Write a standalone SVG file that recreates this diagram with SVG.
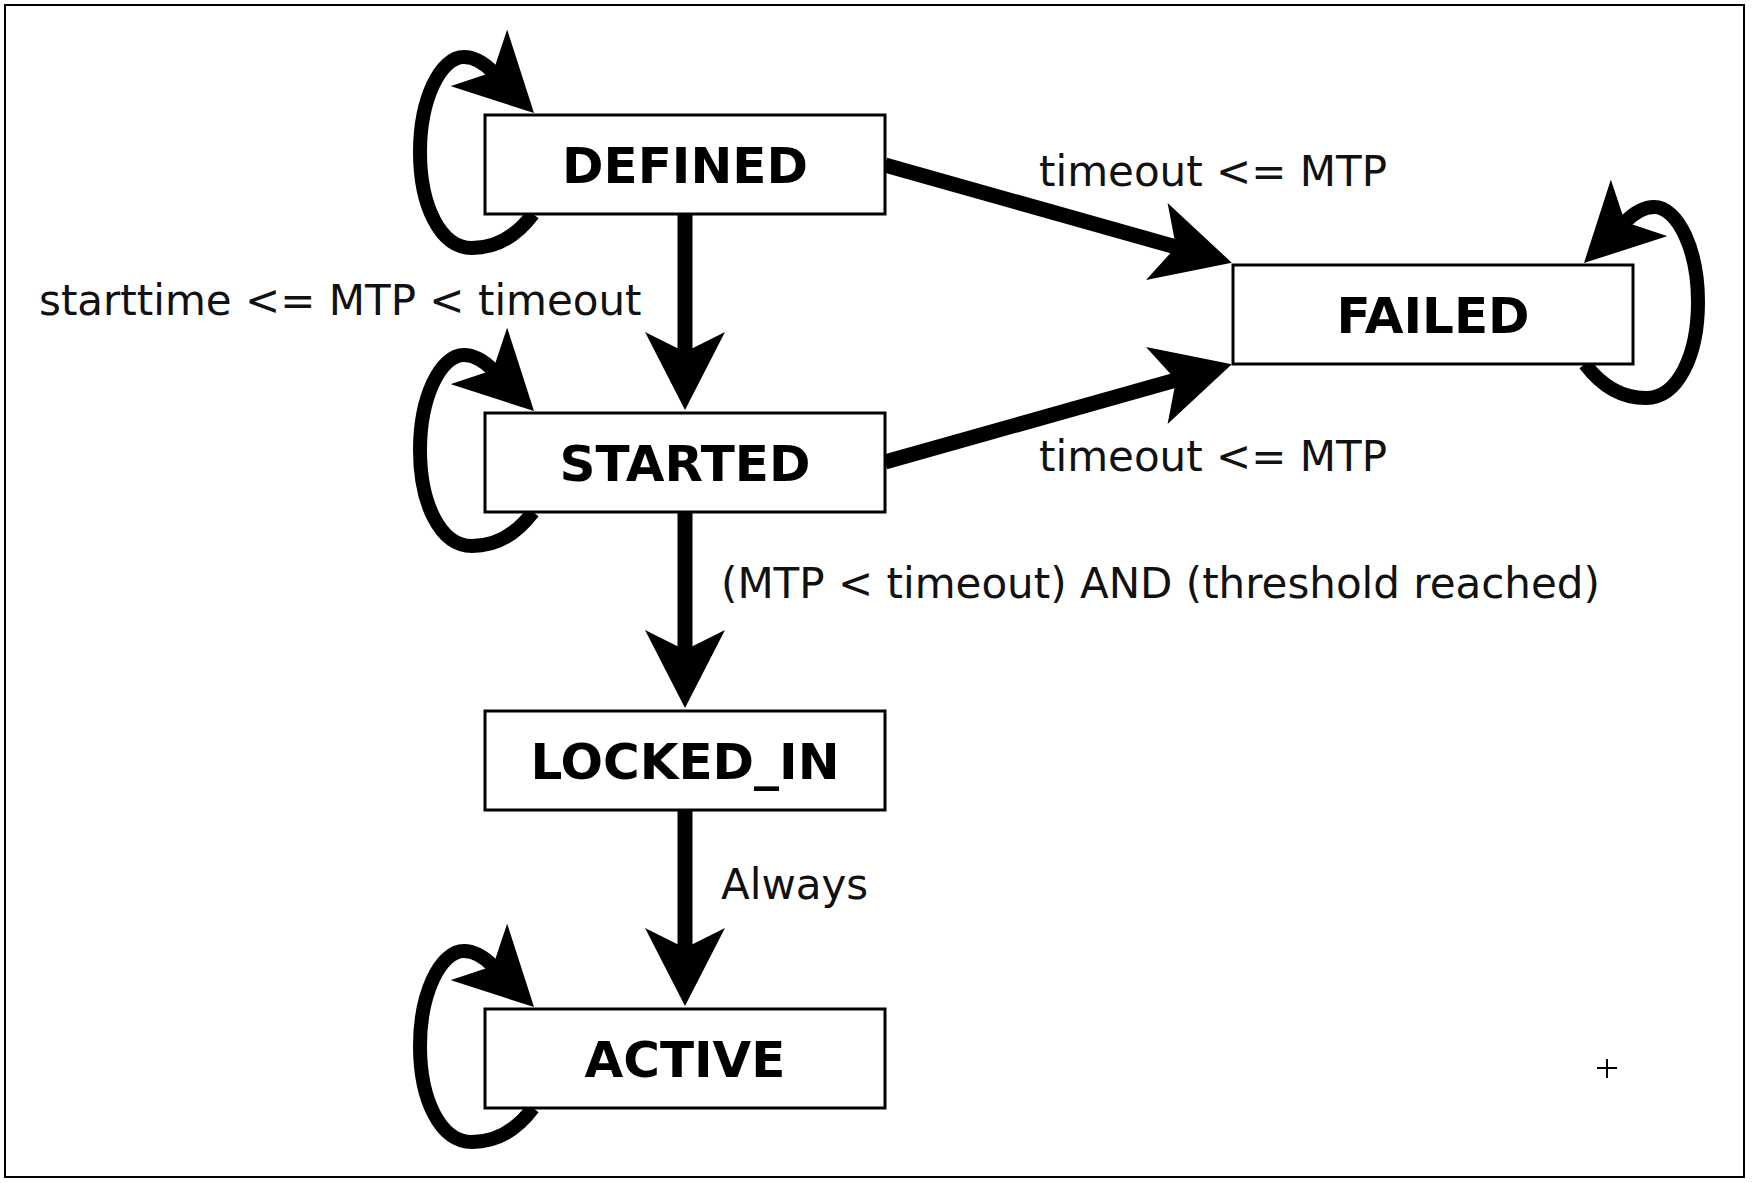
<svg xmlns="http://www.w3.org/2000/svg" xmlns:xlink="http://www.w3.org/1999/xlink" width="1752" height="1183" viewBox="0 0 1752 1183">
  <style>
    .node rect { fill: #ffffff; stroke: #000000; stroke-width: 3; }
    .node text { font-family: "DejaVu Sans", "Liberation Sans", sans-serif; font-weight: bold; font-size: 50px; fill: #000000; text-anchor: middle; }
    .edge { fill: none; stroke: #000000; stroke-width: 15; marker-end: url(#head); }
    .loop { fill: none; stroke: #000000; stroke-width: 14; marker-end: url(#head); }
    .label { font-family: "DejaVu Sans", "Liberation Sans", sans-serif; font-size: 42px; fill: #111111; }
  </style>
  <defs>
    <marker id="head" viewBox="0 0 78 80" refX="20" refY="40" markerWidth="78" markerHeight="80" markerUnits="userSpaceOnUse" orient="auto">
      <path d="M0,0 L78,40 L0,80 L20,40 Z" fill="#000000"/>
    </marker>
    <path id="loopPath" class="loop" d="M533,214 C515,238 495,248 472,248 C440,248 420,205 420,152 C420,100 440,57 464,57 C476,57 486,65 493,72"/>
  </defs>
  <rect x="5" y="5" width="1739" height="1172" fill="#ffffff" stroke="#000000" stroke-width="2"/>

  <g id="connectors">
    <path class="edge" d="M685,214 L685,352"/>
    <path class="edge" d="M685,512 L685,650"/>
    <path class="edge" d="M685,810 L685,948"/>
    <path class="edge" d="M885,165 L1176,247"/>
    <path class="edge" d="M885,462 L1176,380"/>
    <use xlink:href="#loopPath" href="#loopPath"/>
    <use xlink:href="#loopPath" href="#loopPath" transform="translate(0,298)"/>
    <use xlink:href="#loopPath" href="#loopPath" transform="translate(0,894)"/>
    <use xlink:href="#loopPath" href="#loopPath" transform="translate(2118,150) scale(-1,1)"/>
    <text class="label" x="1039" y="186">timeout &lt;= MTP</text>
    <text class="label" x="39" y="315">starttime &lt;= MTP &lt; timeout</text>
    <text class="label" x="1039" y="471">timeout &lt;= MTP</text>
    <text class="label" x="721" y="598">(MTP &lt; timeout) AND (threshold reached)</text>
    <text class="label" x="721" y="899">Always</text>
  </g>

  <g id="node-defined" class="node">
    <rect x="485" y="115" width="400" height="99"/>
    <text x="685" y="183">DEFINED</text>
  </g>
  <g id="node-started" class="node">
    <rect x="485" y="413" width="400" height="99"/>
    <text x="685" y="481">STARTED</text>
  </g>
  <g id="node-locked-in" class="node">
    <rect x="485" y="711" width="400" height="99"/>
    <text x="685" y="779">LOCKED_IN</text>
  </g>
  <g id="node-active" class="node">
    <rect x="485" y="1009" width="400" height="99"/>
    <text x="685" y="1077">ACTIVE</text>
  </g>
  <g id="node-failed" class="node">
    <rect x="1233" y="265" width="400" height="99"/>
    <text x="1433" y="333">FAILED</text>
  </g>

  <g id="cursor-mark" stroke="#000000" stroke-width="2">
    <line x1="1597" y1="1068" x2="1617" y2="1068"/>
    <line x1="1607" y1="1059" x2="1607" y2="1078"/>
  </g>
</svg>
